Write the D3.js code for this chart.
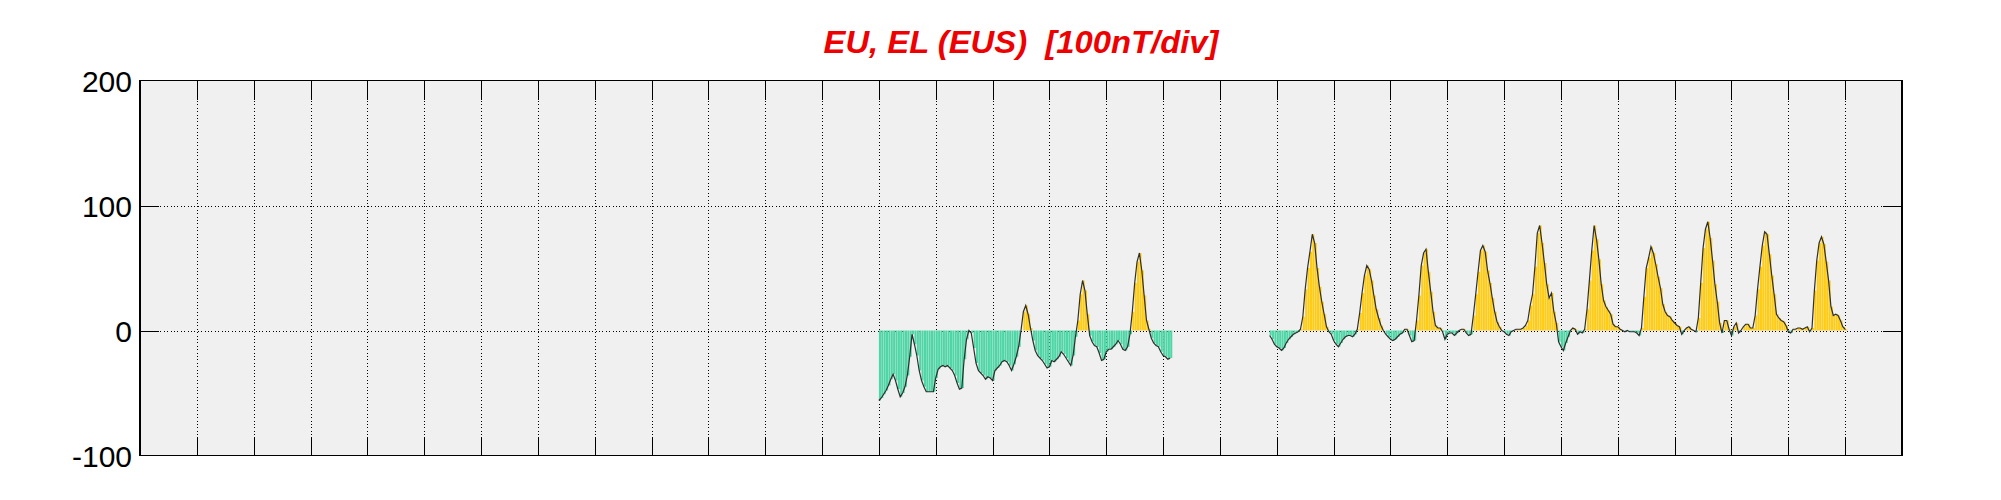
<!DOCTYPE html>
<html>
<head>
<meta charset="utf-8">
<script src="https://cdn.jsdelivr.net/npm/d3@7"></script>
<style>
  html, body { margin: 0; padding: 0; background: #ffffff; }
  svg { display: block; }
</style>
</head>
<body>
<svg id="chart" width="2001" height="500"></svg>
<script>
// ---- data (hourly samples, values in nT) ----
const titleText = "EU, EL (EUS)  [100nT/div]";
const xTickDays = d3.range(0, 32);          // day-of-month grid (0..31)
const yTickValues = [-100, 0, 100, 200];
const yTickLabels = ["-100", "0", "100", "200"];
const segmentStarts = [13, 19.875];         // day of first sample in each segment
const samplesPerDay = 24;

const segment1Values = [
  -56,-54,-51,-48,-44,-39,-35,-40,-47,-53,-50,-45,-36,-21,-3,-11,-20,-32,-40,-45,-49,-49,-49,-49,
  -38,-31,-29,-28,-29,-28,-30,-32,-36,-42,-47,-46,-23,-7,0,-2,-14,-26,-32,-34,-36,-39,-37,-38,
  -40,-32,-30,-28,-25,-24,-25,-28,-32,-27,-21,-13,0,15,20,13,2,-8,-16,-20,-22,-24,-27,-30,
  -29,-24,-25,-23,-21,-17,-19,-22,-25,-28,-20,-5,8,29,40,32,13,-4,-9,-12,-13,-18,-24,-23,
  -17,-15,-15,-13,-11,-8,-11,-15,-16,-13,-3,15,38,55,62,48,28,8,1,-6,-10,-12,-13,-17,
  -20,-21,-23,-22
];

const segment2Values = [
  -4,-7,-11,
  -13,-14,-16,-14,-10,-7,-5,-3,-2,-1,1,11,33,50,63,77,70,50,35,23,13,3,-1,-3,
  -8,-11,-13,-10,-7,-5,-4,-4,-5,-3,1,14,30,44,52,49,40,28,17,10,4,0,-3,-5,
  -7,-8,-7,-5,-3,-2,1,1,-4,-9,-8,8,28,52,62,65,47,31,15,4,2,2,-1,-7,
  -3,-2,-2,-4,-2,0,1,1,-2,-4,-3,12,29,47,64,68,63,48,38,26,15,7,3,0,
  -1,-3,-4,-1,0,1,1,1,2,4,8,20,29,51,78,84,70,54,37,26,30,15,6,-9,
  -13,-16,-10,-5,0,2,1,-3,-1,-2,1,17,40,64,84,73,57,37,24,19,16,13,5,3,
  3,1,0,-1,0,-1,-1,-1,-2,-4,2,27,50,58,67,62,53,43,34,21,15,12,11,8,
  6,4,3,-3,0,2,3,1,0,-1,10,38,66,81,87,74,56,37,23,6,-2,8,8,1,
  -4,3,6,-2,0,3,5,5,2,2,12,33,51,68,79,77,61,44,29,13,10,8,7,4,
  -1,-2,1,1,2,2,1,2,3,-1,2,32,56,70,75,69,55,40,19,12,13,12,8,3,
  1
];
const segments = [segment1Values, segment2Values];

// ---- colours ----
const posColor = "#ffcc11";
const negColor = "#4fd6a6";
const lineColor = "#2e2e2e";
const plotBg = "#f0f0f0";

// ---- layout ----
const svg = d3.select("#chart");
const pL = 140, pR = 1902, pT = 80.5, pB = 455.5;

const x = d3.scaleLinear().domain([0, 31]).range([pL, pR]);
const y = d3.scaleLinear().domain([-100, 200]).range([pB, pT]);

// plot background
svg.append("rect")
  .attr("x", pL).attr("y", pT)
  .attr("width", pR - pL).attr("height", pB - pT)
  .attr("fill", plotBg);

// grid lines
const innerDays = xTickDays.filter(d => d > 0 && d < 31);
const innerY = yTickValues.filter(v => v > -100 && v < 200);
const grid = svg.append("g").attr("stroke", "#000").attr("stroke-width", 1)
  .attr("stroke-dasharray", "1,2.4").attr("shape-rendering", "crispEdges");
grid.append("g").selectAll("line").data(innerDays).join("line")
  .attr("x1", d => Math.round(x(d)) + 0.5).attr("x2", d => Math.round(x(d)) + 0.5)
  .attr("y1", pT).attr("y2", pB);
grid.append("g").selectAll("line").data(innerY).join("line")
  .attr("x1", pL).attr("x2", pR)
  .attr("y1", d => Math.round(y(d)) + 0.5).attr("y2", d => Math.round(y(d)) + 0.5);

// data: bars + line
const dataG = svg.append("g");
const step = 1 / samplesPerDay;
segments.forEach((vals, si) => {
  const pts = vals.map((v, i) => ({ t: segmentStarts[si] + i * step, v }));
  dataG.append("g").selectAll("rect").data(pts).join("rect")
    .attr("x", d => x(d.t))
    .attr("width", d => Math.max(0.5, x(d.t + step) - x(d.t) - 0.3))
    .attr("y", d => Math.min(y(0), y(d.v)))
    .attr("height", d => Math.abs(y(d.v) - y(0)))
    .attr("fill", d => d.v >= 0 ? posColor : negColor);
  dataG.append("path").datum(pts)
    .attr("fill", "none").attr("stroke", lineColor).attr("stroke-width", 1.2)
    .attr("d", d3.line().x(d => x(d.t)).y(d => y(d.v)));
});

// axes with inward ticks (box style)
const tickLen = 19;
const axisG = svg.append("g").attr("stroke", "#000").attr("stroke-width", 1.2)
  .attr("shape-rendering", "crispEdges");
axisG.append("rect").attr("x", pL).attr("y", pT)
  .attr("width", pR - pL).attr("height", pB - pT).attr("fill", "none");
axisG.append("g").selectAll("line").data(innerDays).join("line")
  .attr("x1", d => Math.round(x(d)) + 0.5).attr("x2", d => Math.round(x(d)) + 0.5)
  .attr("y1", pB).attr("y2", pB - tickLen);
axisG.append("g").selectAll("line").data(innerDays).join("line")
  .attr("x1", d => Math.round(x(d)) + 0.5).attr("x2", d => Math.round(x(d)) + 0.5)
  .attr("y1", pT).attr("y2", pT + tickLen);
axisG.append("g").selectAll("line").data(innerY).join("line")
  .attr("x1", pL).attr("x2", pL + tickLen)
  .attr("y1", d => Math.round(y(d)) + 0.5).attr("y2", d => Math.round(y(d)) + 0.5);
axisG.append("g").selectAll("line").data(innerY).join("line")
  .attr("x1", pR).attr("x2", pR - tickLen)
  .attr("y1", d => Math.round(y(d)) + 0.5).attr("y2", d => Math.round(y(d)) + 0.5);

// y tick labels
svg.append("g").selectAll("text").data(yTickValues).join("text")
  .attr("x", pL - 8).attr("y", d => y(d) + 11)
  .attr("text-anchor", "end")
  .attr("font-family", "Liberation Sans, Arial, sans-serif")
  .attr("font-size", 30).attr("fill", "#000")
  .text((d, i) => yTickLabels[i]);

// title
svg.append("text")
  .attr("x", (pL + pR) / 2).attr("y", 53)
  .attr("text-anchor", "middle")
  .attr("font-family", "Liberation Sans, Arial, sans-serif")
  .attr("font-size", 31).attr("font-weight", "bold").attr("font-style", "italic")
  .attr("fill", "#ee0000")
  .attr("textLength", 395).attr("lengthAdjust", "spacingAndGlyphs")
  .style("white-space", "pre")
  .text(titleText);
</script>
</body>
</html>
